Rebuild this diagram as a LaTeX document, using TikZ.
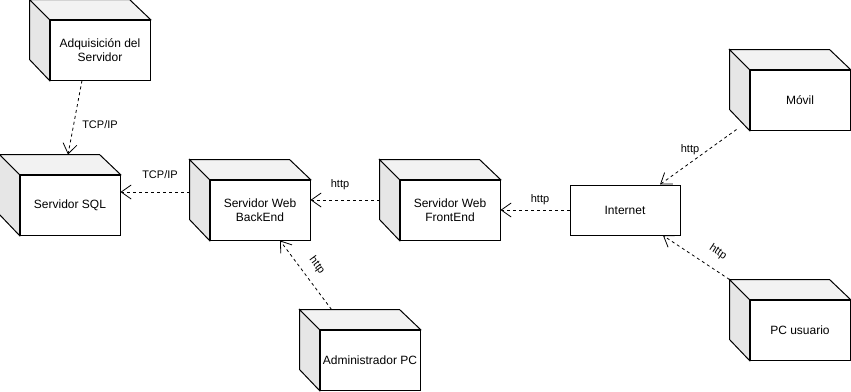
\documentclass[tikz,border=0pt]{standalone}
\usepackage{fontspec}
\setmainfont{Liberation Sans}
\usetikzlibrary{arrows.meta}

\definecolor{sidegray}{HTML}{E6E6E6}
\definecolor{topgray}{HTML}{F2F2F2}

\tikzset{
  devbox/.style={draw, fill=white, line width=1pt, minimum width=100pt, minimum height=60pt,
    inner sep=2pt, align=center, font=\fontsize{12}{14.5}\selectfont},
  netbox/.style={devbox, minimum width=110pt, minimum height=50pt},
  sideface/.style={draw, fill=sidegray, line width=1pt},
  topface/.style={draw, fill=topgray, line width=1pt},
  dep/.style={line width=0.8pt, dash pattern=on 3pt off 3pt,
    -{Straight Barb[length=10pt, width=14pt, line width=0.8pt]}},
  lbl/.style={font=\fontsize{11}{13}\selectfont, inner sep=1pt}
}

% side and top faces of a deployment node
\newcommand{\boxfaces}[1]{%
  \draw[sideface] (#1.north west) -- ++(-20,-20) -- ++(0,60) -- (#1.south west) -- cycle;
  \draw[topface] (#1.north west) -- ++(-20,-20) -- ++(100,0) -- (#1.north east) -- cycle;
}

\begin{document}
\begin{tikzpicture}[x=1pt, y=-1pt]
\useasboundingbox (0,0) rectangle (851,391);

\node[devbox] (acq) at (100,50) {Adquisición del\\Servidor};
\node[devbox] (sql) at (70,205) {Servidor SQL};
\node[devbox] (back) at (260,210) {Servidor Web\\BackEnd};
\node[devbox] (front) at (450,210) {Servidor Web\\FrontEnd};
\node[netbox] (inet) at (625,210) {Internet};
\node[devbox] (movil) at (800,100) {Móvil};
\node[devbox] (pcu) at (800,330) {PC usuario};
\node[devbox] (admin) at (370,360) {Administrador PC};

\boxfaces{acq}
\boxfaces{sql}
\boxfaces{back}
\boxfaces{front}
\boxfaces{movil}
\boxfaces{pcu}
\boxfaces{admin}

% connections
\draw[dep] ([xshift=-18]acq.south) -- ([shift={(-2,-20)}]sql.north);
\draw[dep] ([shift={(-20,-18)}]back.west) -- ([shift={(0,-13)}]sql.east);
\draw[dep] ([shift={(-20,-10)}]front.west) -- ([shift={(0,-10)}]back.east);
\draw[dep] (inet.west) -- (front.east);
\draw[dep] ([shift={(-13,-1)}]movil.south west) -- ([xshift=35]inet.north);
\draw[dep] ([shift={(-20,-20)}]pcu.north west) -- ([xshift=38]inet.south)
  node[lbl, pos=0.31, sloped, above=10pt] (lblPcu) {http};
\draw[dep] ([shift={(12,-20)}]admin.north west) -- ([xshift=20]back.south)
  node[lbl, pos=0.51, sloped, above=8pt] (lblAdmin) {http};

\node[lbl] (lblAcq) at (100,125) {TCP/IP};
\node[lbl] (lblSql) at (160,175) {TCP/IP};
\node[lbl] (lblBack) at (340,185) {http};
\node[lbl] (lblFront) at (540,200) {http};
\node[lbl] (lblMovil) at (690,150) {http};
\end{tikzpicture}
\end{document}
